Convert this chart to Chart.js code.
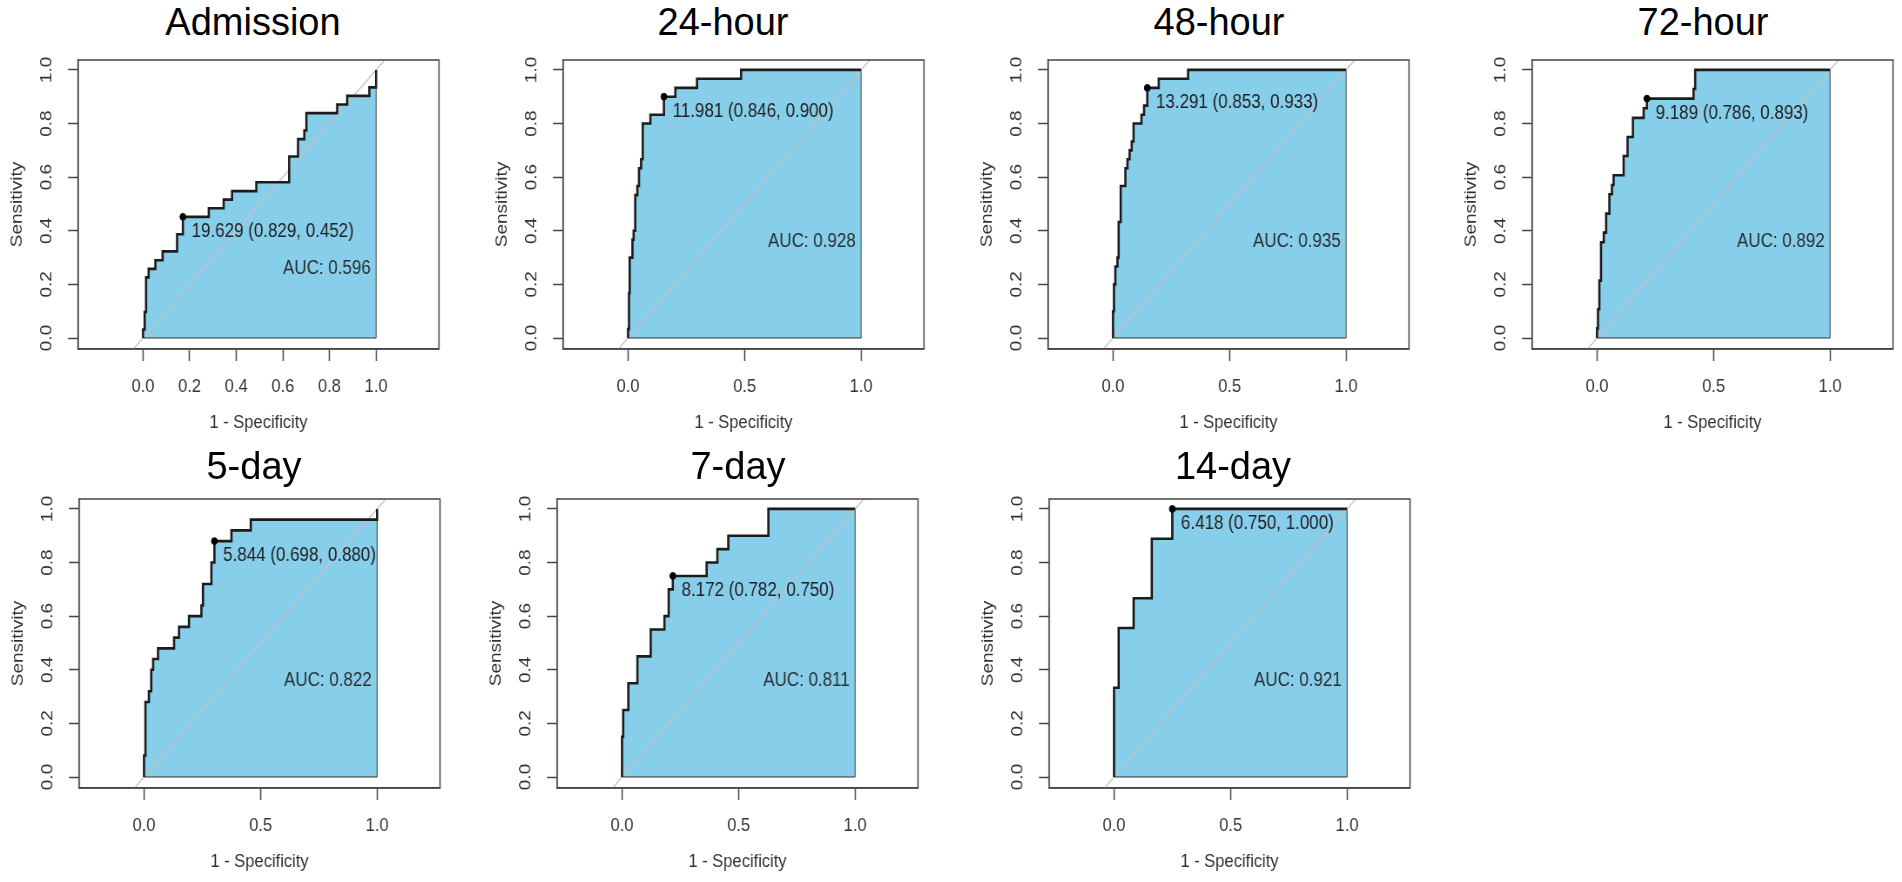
<!DOCTYPE html>
<html>
<head>
<meta charset="utf-8">
<script src="https://cdn.jsdelivr.net/npm/chart.js@4.4.1/dist/chart.umd.min.js"></script>
<style>
    html, body { margin: 0; padding: 0; background: #fff; width: 1902px; height: 882px; overflow: hidden; }
    .panel { position: absolute; transform-origin: 0 0; }
    .title { position: absolute; width: 400px; text-align: center; color: #000;
             font-family: "Liberation Sans", Arial, sans-serif; font-size: 38px; line-height: 38px; }
</style>
</head>
<body>
<script>
'use strict';

// ---- data ----
const titles = ['Admission', '24-hour', '48-hour', '72-hour', '5-day', '7-day', '14-day'];

// ROC steps: at each 1 - specificity value the sensitivity rises to the given level
const admFpr = [0, 0.007, 0.013, 0.024, 0.053, 0.084, 0.146, 0.160, 0.171, 0.282, 0.346, 0.382, 0.486, 0.627, 0.665, 0.692, 0.701, 0.833, 0.876, 0.971, 1.0];
const admTpr = [0.032, 0.097, 0.226, 0.258, 0.290, 0.323, 0.387, 0.387, 0.452, 0.484, 0.516, 0.548, 0.581, 0.677, 0.742, 0.774, 0.839, 0.871, 0.903, 0.935, 1.0];

const h24Fpr = [0, 0.004, 0.007, 0.019, 0.024, 0.031, 0.040, 0.047, 0.056, 0.063, 0.096, 0.154, 0.203, 0.296, 0.485, 1.0];
const h24Tpr = [0.033, 0.167, 0.300, 0.367, 0.400, 0.533, 0.567, 0.633, 0.667, 0.800, 0.833, 0.900, 0.933, 0.967, 1.0, 1.0];

const h48Fpr = [0, 0.004, 0.010, 0.019, 0.024, 0.033, 0.053, 0.062, 0.071, 0.080, 0.088, 0.122, 0.133, 0.147, 0.196, 0.322, 1.0];
const h48Tpr = [0.100, 0.200, 0.267, 0.300, 0.433, 0.567, 0.633, 0.667, 0.700, 0.733, 0.800, 0.833, 0.867, 0.933, 0.967, 1.0, 1.0];

const h72Fpr = [0, 0.004, 0.010, 0.017, 0.029, 0.039, 0.053, 0.064, 0.071, 0.114, 0.131, 0.154, 0.200, 0.214, 0.414, 0.421, 1.0];
const h72Tpr = [0.036, 0.107, 0.214, 0.357, 0.393, 0.464, 0.536, 0.571, 0.607, 0.679, 0.750, 0.821, 0.857, 0.893, 0.929, 1.0, 1.0];

const d5Fpr = [0, 0.006, 0.021, 0.031, 0.039, 0.060, 0.129, 0.150, 0.193, 0.246, 0.253, 0.289, 0.302, 0.375, 0.458, 1.0];
const d5Tpr = [0.08, 0.28, 0.32, 0.40, 0.44, 0.48, 0.52, 0.56, 0.60, 0.64, 0.72, 0.80, 0.88, 0.92, 0.96, 1.0];

const d7Fpr = [0, 0.005, 0.027, 0.066, 0.123, 0.182, 0.200, 0.218, 0.363, 0.409, 0.456, 0.628, 1.0];
const d7Tpr = [0.15, 0.25, 0.35, 0.45, 0.55, 0.60, 0.70, 0.75, 0.80, 0.85, 0.90, 1.0, 1.0];

const d14Fpr = [0, 0.020, 0.084, 0.162, 0.250, 1.0];
const d14Tpr = [0.333, 0.556, 0.667, 0.889, 1.0, 1.0];

// best threshold (specificity, sensitivity) and AUC per panel
const bestThreshold = ['19.629', '11.981', '13.291', '9.189', '5.844', '8.172', '6.418'];
const bestSpec = [0.829, 0.846, 0.853, 0.786, 0.698, 0.782, 0.750];
const bestSens = [0.452, 0.900, 0.933, 0.893, 0.880, 0.750, 1.000];
const aucValues = [0.596, 0.928, 0.935, 0.892, 0.822, 0.811, 0.921];

const xTicksFine = [0, 0.2, 0.4, 0.6, 0.8, 1.0];
const xTicksCoarse = [0, 0.5, 1.0];
const yTicks = [0, 0.2, 0.4, 0.6, 0.8, 1.0];

const rocFpr = [admFpr, h24Fpr, h48Fpr, h72Fpr, d5Fpr, d7Fpr, d14Fpr];
const rocTpr = [admTpr, h24Tpr, h48Tpr, h72Tpr, d5Tpr, d7Tpr, d14Tpr];

// ---- layout (page pixels) ----
const SQUASH = 0.87;          // the original panels are narrower than tall
const BOX_W = 361, BOX_H = 289;
const Y_AXIS_W = 78;          // left of the box, page pixels
const PAD_TOP = 30;
const X_AXIS_H = 89.4;
const CANVAS_W = 520, CANVAS_H = 417;
const X_MIN = -0.279, X_MAX = 1.270, Y_MIN = -0.041, Y_MAX = 1.037;

// boxLeft, boxTop, title centre x, title cap centre y, AUC label height, x ticks
const panels = [
    [78, 60, 253, 22, 0.26, xTicksFine],
    [563, 60, 723, 22, 0.36, xTicksCoarse],
    [1048, 60, 1219, 22, 0.36, xTicksCoarse],
    [1532, 60, 1703, 22, 0.36, xTicksCoarse],
    [79, 499, 254, 466, 0.36, xTicksCoarse],
    [557, 499, 738, 466, 0.36, xTicksCoarse],
    [1049, 499, 1233, 466, 0.36, xTicksCoarse]
];

const fontFamily = '"Liberation Sans", Arial, sans-serif';
const textColor = '#333';
const frameColor = '#444';
const fillBlue = '#87CEEB';

// box around the plot region
const plotBox = {
    id: 'plotBox',
    afterDraw: function (chart) {
        const a = chart.chartArea;
        const ctx = chart.ctx;
        ctx.save();
        ctx.strokeStyle = frameColor;
        ctx.lineWidth = 1.5;
        ctx.strokeRect(a.left, a.top, a.right - a.left, a.bottom - a.top);
        ctx.restore();
    }
};

// threshold and AUC labels
const rocLabels = {
    id: 'rocLabels',
    afterDatasetsDraw: function (chart) {
        const o = chart.options.plugins.rocLabels;
        const xs = chart.scales.x, ys = chart.scales.y;
        const ctx = chart.ctx;
        ctx.save();
        ctx.font = '19.5px ' + fontFamily;
        ctx.fillStyle = '#222';
        ctx.textBaseline = 'middle';

        ctx.textAlign = 'left';
        const px = xs.getPixelForValue(1 - o.spec);
        const py = ys.getPixelForValue(o.sens);
        ctx.fillText(o.threshold + ' (' + o.spec.toFixed(3) + ', ' + o.sens.toFixed(3) + ')', px + 10, py + 15);

        ctx.textAlign = 'right';
        ctx.fillStyle = '#2a2f35';
        ctx.fillText('AUC: ' + o.auc.toFixed(3), xs.getPixelForValue(0.977), ys.getPixelForValue(o.aucY));
        ctx.restore();
    }
};

function stepPoints(fpr, tpr) {
    const pts = [{x: 0, y: 0}];
    fpr.forEach(function (f, i) { pts.push({x: f, y: tpr[i]}); });
    return pts;
}

function rocPanel(i) {
    const [boxLeft, boxTop, titleX, titleY, aucY, xTicks] = panels[i];

    const title = document.createElement('div');
    title.className = 'title';
    title.textContent = titles[i];
    title.style.left = (titleX - 200) + 'px';
    title.style.top = (titleY - 18.6) + 'px';
    document.body.appendChild(title);

    const wrap = document.createElement('div');
    wrap.className = 'panel';
    wrap.style.left = (boxLeft - Y_AXIS_W) + 'px';
    wrap.style.top = (boxTop - PAD_TOP) + 'px';
    wrap.style.transform = 'scaleX(' + SQUASH + ')';
    const canvas = document.createElement('canvas');
    canvas.width = CANVAS_W;
    canvas.height = CANVAS_H;
    wrap.appendChild(canvas);
    document.body.appendChild(wrap);

    const curve = stepPoints(rocFpr[i], rocTpr[i]);
    const last = curve[curve.length - 1];
    const polygon = curve.concat([{x: last.x, y: 0}]);

    const yAxisW = Y_AXIS_W / SQUASH;
    const areaW = BOX_W / SQUASH;

    new Chart(canvas, {
        type: 'scatter',
        data: {
            datasets: [
                {
                    data: polygon,
                    showLine: true,
                    stepped: 'before',
                    fill: 'origin',
                    backgroundColor: fillBlue,
                    borderColor: '#333',
                    borderWidth: 1,
                    pointRadius: 0,
                    order: 5
                },
                {
                    data: [{x: Y_MIN, y: Y_MIN}, {x: Y_MAX, y: Y_MAX}],
                    showLine: true,
                    borderColor: '#c4c4c4',
                    borderWidth: 1.3,
                    pointRadius: 0,
                    clip: 0,
                    order: 4
                },
                {
                    data: [{x: 0, y: 0}, {x: last.x, y: 0}],
                    showLine: true,
                    borderColor: '#333',
                    borderWidth: 1,
                    pointRadius: 0,
                    order: 3
                },
                {
                    data: curve,
                    showLine: true,
                    stepped: 'before',
                    borderColor: '#1c1c1c',
                    borderWidth: 2.6,
                    pointRadius: 0,
                    order: 2
                },
                {
                    data: [{x: 1 - bestSpec[i], y: bestSens[i]}],
                    showLine: false,
                    pointRadius: 3.4,
                    pointBackgroundColor: '#000',
                    pointBorderColor: '#000',
                    order: 1
                }
            ]
        },
        options: {
            responsive: false,
            animation: false,
            events: [],
            layout: {
                padding: {left: 0, top: PAD_TOP, right: CANVAS_W - yAxisW - areaW, bottom: CANVAS_H - PAD_TOP - BOX_H - X_AXIS_H}
            },
            scales: {
                x: {
                    type: 'linear',
                    min: X_MIN,
                    max: X_MAX,
                    afterBuildTicks: function (scale) { scale.ticks = xTicks.map(v => ({value: v})); },
                    afterFit: function (scale) { scale.height = X_AXIS_H; },
                    grid: {drawOnChartArea: false, drawTicks: true, tickLength: 12, tickColor: frameColor, tickWidth: 1.5},
                    border: {display: true, color: frameColor, width: 1.5},
                    ticks: {
                        padding: 14.5,
                        color: textColor,
                        font: {family: fontFamily, size: 19},
                        maxRotation: 0,
                        callback: v => v.toFixed(1)
                    },
                    title: {display: true, text: '1 - Specificity', color: textColor,
                            font: {family: fontFamily, size: 19}, padding: {top: 0, bottom: 4}}
                },
                y: {
                    type: 'linear',
                    min: Y_MIN,
                    max: Y_MAX,
                    afterBuildTicks: function (scale) { scale.ticks = yTicks.map(v => ({value: v})); },
                    afterFit: function (scale) { scale.width = yAxisW; },
                    grid: {drawOnChartArea: false, drawTicks: true, tickLength: 11.5, tickColor: frameColor, tickWidth: 1.5},
                    border: {display: true, color: frameColor, width: 1.5},
                    ticks: {
                        padding: 11,
                        crossAlign: 'center',
                        minRotation: 90,
                        maxRotation: 90,
                        color: textColor,
                        font: {family: fontFamily, size: 19},
                        callback: v => v.toFixed(1)
                    },
                    title: {display: true, text: 'Sensitivity', color: textColor,
                            font: {family: fontFamily, size: 19}, padding: {top: 8, bottom: 0}}
                }
            },
            plugins: {
                legend: {display: false},
                tooltip: {enabled: false},
                rocLabels: {
                    threshold: bestThreshold[i],
                    spec: bestSpec[i],
                    sens: bestSens[i],
                    auc: aucValues[i],
                    aucY: aucY
                }
            }
        },
        plugins: [plotBox, rocLabels]
    });
}

for (let i = 0; i < titles.length; i++) rocPanel(i);
</script>
</body>
</html>
